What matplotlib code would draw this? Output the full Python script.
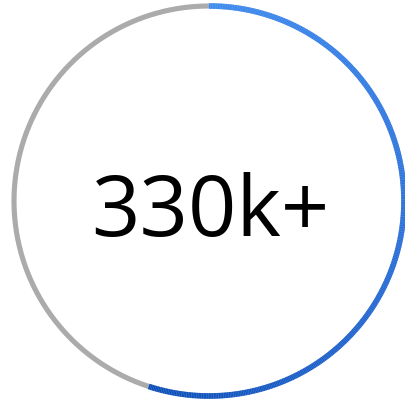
import numpy as np
import matplotlib
matplotlib.use("Agg")
import matplotlib.pyplot as plt
from matplotlib.collections import LineCollection
from matplotlib.colors import LinearSegmentedColormap

label = "330k+"
progress = 0.55  # fraction of ring filled

fig = plt.figure(figsize=(4.06, 4.07), dpi=100)
ax = fig.add_axes([0, 0, 1, 1])
ax.set_xlim(0, 406)
ax.set_ylim(407, 0)
ax.axis("off")

cx, cy, r = 209, 201, 195
lw = 3.7

# gray track
t = np.linspace(0, 2 * np.pi, 720)
ax.plot(cx + r * np.sin(t), cy - r * np.cos(t), color="#ABABAB", lw=lw, solid_capstyle="butt")

# gradient arc (clockwise from top)
n = 400
ang = np.linspace(0, 2 * np.pi * progress, n + 1)
x = cx + r * np.sin(ang)
y = cy - r * np.cos(ang)
pts = np.column_stack([x, y]).reshape(-1, 1, 2)
segs = np.concatenate([pts[:-1], pts[1:]], axis=1)
cmap = LinearSegmentedColormap.from_list("g", ["#3C8DF6", "#2871E0", "#0A4FBE"])
lc = LineCollection(segs, colors=cmap(np.linspace(0, 1, n)), linewidths=lw + 0.4, capstyle="butt")
ax.add_collection(lc)

ax.text(cx + 1, 214, label, ha="center", va="center", fontsize=61, family=["Open Sans", "DejaVu Sans"], color="black")

fig.savefig("out.png", dpi=100)
